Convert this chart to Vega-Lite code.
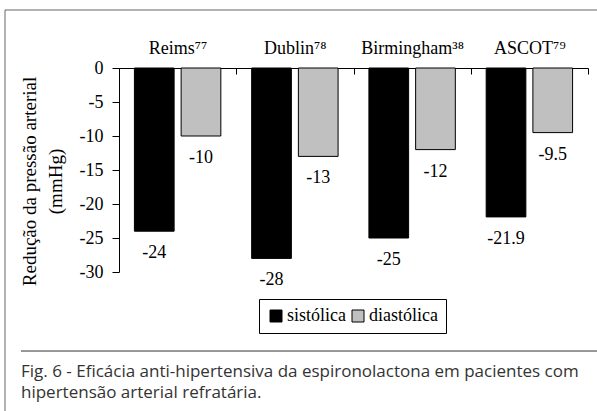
{
  "$schema": "https://vega.github.io/schema/vega-lite/v6.json",
  "width": 592,
  "height": 401,
  "autosize": {"type": "none"},
  "padding": {"left": 5, "top": 10, "right": 0, "bottom": 0},
  "background": "white",
  "config": {"view": {"stroke": null}, "font": "Liberation Serif"},
  "title": {
    "text": ["Fig. 6 - Eficácia anti-hipertensiva da espironolactona em pacientes com", "hipertensão arterial refratária."],
    "orient": "bottom", "anchor": "start", "frame": "group", "offset": -48, "dx": 16,
    "font": "Open Sans", "fontSize": 17, "fontWeight": "normal", "color": "#333333", "lineHeight": 21
  },
  "data": {"values": [
    {"local": "Reims⁷⁷", "medida": "sistólica", "valor": -24},
    {"local": "Reims⁷⁷", "medida": "diastólica", "valor": -10},
    {"local": "Dublin⁷⁸", "medida": "sistólica", "valor": -28},
    {"local": "Dublin⁷⁸", "medida": "diastólica", "valor": -13},
    {"local": "Birmingham³⁸", "medida": "sistólica", "valor": -25},
    {"local": "Birmingham³⁸", "medida": "diastólica", "valor": -12},
    {"local": "ASCOT⁷⁹", "medida": "sistólica", "valor": -21.9},
    {"local": "ASCOT⁷⁹", "medida": "diastólica", "valor": -9.5}
  ]},
  "resolve": {"scale": {"x": "independent"}, "axis": {"x": "independent"}},
  "layer": [
    {
      "mark": {"type": "bar", "stroke": "black", "strokeWidth": 1},
      "encoding": {
        "x": {"field": "local", "type": "nominal", "sort": null,
          "scale": {"range": [114, 583], "paddingInner": 0, "paddingOuter": 0},
          "axis": {"orient": "top", "offset": -58, "title": null, "labelAngle": 0,
            "domainColor": "black", "tickColor": "black", "tickBand": "extent", "tickSize": -6,
            "labelFont": "Liberation Serif, DejaVu Serif", "labelFontSize": 18, "labelColor": "black", "labelPadding": 17}},
        "xOffset": {"field": "medida", "type": "nominal", "sort": ["sistólica", "diastólica"],
          "scale": {"paddingInner": 0.15, "paddingOuter": 0.33}},
        "y": {"field": "valor", "type": "quantitative",
          "scale": {"domain": [-30, 0], "range": [262, 58], "nice": false, "zero": false},
          "axis": {"orient": "left", "offset": -114, "values": [-30, -25, -20, -15, -10, -5, 0],
            "labelExpr": "'' + datum.value", "grid": false,
            "domainColor": "black", "tickColor": "black", "tickSize": 7,
            "labelFont": "Liberation Serif", "labelFontSize": 18, "labelColor": "black", "labelPadding": 9,
            "title": ["Redução da pressão arterial", "(mmHg)"], "titleFont": "Liberation Serif",
            "titleFontSize": 19, "titleFontWeight": "normal", "titleColor": "black",
            "titlePadding": 14, "titleLineHeight": 26, "titleY": 171}},
        "color": {"field": "medida", "type": "nominal", "sort": ["sistólica", "diastólica"],
          "scale": {"range": ["black", "#c0c0c0"]},
          "legend": {"orient": "none", "legendX": 254, "legendY": 289, "direction": "horizontal",
            "title": null, "strokeColor": "black", "fillColor": "white", "padding": 8,
            "symbolType": "square", "symbolSize": 144, "symbolStrokeColor": "black", "symbolStrokeWidth": 1,
            "labelFont": "Liberation Serif", "labelFontSize": 18, "labelColor": "black",
            "labelOffset": 2, "columnPadding": 3}}
      }
    },
    {
      "mark": {"type": "text", "baseline": "top", "dy": 13, "fontSize": 18, "font": "Liberation Serif", "color": "black"},
      "encoding": {
        "x": {"field": "local", "type": "nominal", "sort": null,
          "scale": {"range": [114, 583], "paddingInner": 0, "paddingOuter": 0}, "axis": null},
        "xOffset": {"field": "medida", "type": "nominal", "sort": ["sistólica", "diastólica"],
          "scale": {"paddingInner": 0.15, "paddingOuter": 0.33}},
        "y": {"field": "valor", "type": "quantitative"},
        "text": {"field": "valor", "type": "nominal"}
      }
    },
    {
      "data": {"values": [{"pos": 8.53}]},
      "mark": {"type": "rule", "color": "#666666", "strokeWidth": 1},
      "encoding": {"y": {"field": "pos", "type": "quantitative"}}
    },
    {
      "data": {"values": [{"pos": 0}]},
      "mark": {"type": "rule", "color": "#666666", "strokeWidth": 1},
      "encoding": {"x": {"field": "pos", "type": "quantitative", "scale": {"domain": [0, 1], "range": [0, 592]}, "axis": null}}
    },
    {
      "data": {"values": [{"a": 0.027, "b": 1, "pos": -41.62}]},
      "mark": {"type": "rule", "color": "#333333", "strokeWidth": 1},
      "encoding": {
        "x": {"field": "a", "type": "quantitative", "scale": {"domain": [0, 1], "range": [0, 592]}, "axis": null},
        "x2": {"field": "b"},
        "y": {"field": "pos", "type": "quantitative"}
      }
    }
  ]
}
